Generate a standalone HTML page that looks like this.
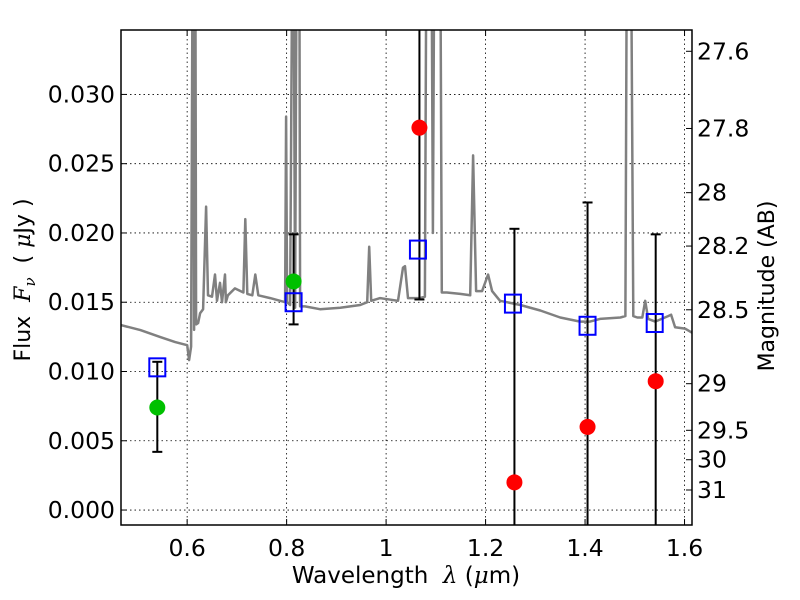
<!DOCTYPE html>
<html><head><meta charset="utf-8"><style>
html,body{margin:0;padding:0;background:#fff;overflow:hidden;width:800px;height:600px;}
svg{display:block;font-family:"DejaVu Sans","Liberation Sans",sans-serif;}
</style></head><body>
<svg id="chart" width="800" height="600" xmlns="http://www.w3.org/2000/svg">
<rect width="800" height="600" fill="#fff"/>
<defs><clipPath id="plotclip"><rect x="121" y="30" width="571" height="495"/></clipPath></defs>
<g id="grid"></g>
<g id="marks" clip-path="url(#plotclip)"></g>
<rect x="121" y="30" width="571" height="495" fill="none" stroke="#000" stroke-width="1.5"/>
<g id="axes"></g>
<text x="406" y="583" font-size="23" text-anchor="middle" xml:space="preserve">Wavelength  <tspan font-family="DejaVu Serif, serif" font-style="italic">λ</tspan> (<tspan font-family="DejaVu Serif, serif" font-style="italic">μ</tspan>m)</text>
<text transform="translate(30,280) rotate(-90)" font-size="22" text-anchor="middle" xml:space="preserve">Flux  <tspan font-family="DejaVu Serif, serif" font-style="italic">F</tspan><tspan font-family="DejaVu Serif, serif" font-style="italic" font-size="15" dy="5">ν</tspan><tspan dy="-5">  ( </tspan><tspan font-family="DejaVu Serif, serif" font-style="italic">μ</tspan>Jy )</text>
<text transform="translate(774,286) rotate(-90)" font-size="22" text-anchor="middle">Magnitude (AB)</text>
</svg>
<script>
const xTicks=[0.6,0.8,1.0,1.2,1.4,1.6];
const xTickLabels=["0.6","0.8","1","1.2","1.4","1.6"];
const yTicks=[0,0.005,0.01,0.015,0.02,0.025,0.03];
const yTickLabels=["0.000","0.005","0.010","0.015","0.020","0.025","0.030"];
const magTicks=[27.6,27.8,28,28.2,28.5,29,29.5,30,31];
const magTickLabels=["27.6","27.8","28","28.2","28.5","29","29.5","30","31"];
const specWave=[0.467,0.506,0.546,0.576,0.600,0.604,0.608,0.612,0.614,0.616,0.618,0.622,0.626,0.632,0.638,0.642,0.650,0.656,0.660,0.666,0.670,0.676,0.678,0.682,0.696,0.713,0.717,0.721,0.731,0.737,0.743,0.767,0.797,0.799,0.801,0.807,0.813,0.817,0.821,0.825,0.827,0.837,0.867,0.908,0.948,0.962,0.966,0.970,0.988,1.024,1.034,1.038,1.044,1.068,1.078,1.082,1.090,1.094,1.098,1.108,1.112,1.122,1.149,1.169,1.175,1.181,1.193,1.205,1.213,1.229,1.270,1.310,1.350,1.390,1.410,1.430,1.471,1.481,1.485,1.491,1.497,1.505,1.515,1.521,1.527,1.541,1.567,1.573,1.581,1.601,1.615];
const specFlux=[0.01335,0.01299,0.01248,0.01212,0.0119,0.01082,0.0118,0.05,0.013,0.05,0.0134,0.01349,0.0142,0.0145,0.0219,0.0155,0.0154,0.0170,0.0151,0.0164,0.0150,0.0170,0.0150,0.0155,0.0160,0.0157,0.0210,0.0156,0.0155,0.0170,0.0155,0.0153,0.0150,0.0284,0.0150,0.0148,0.05,0.0146,0.05,0.05,0.0147,0.0147,0.0145,0.0146,0.0148,0.0150,0.0190,0.0151,0.0153,0.0151,0.0175,0.0176,0.0153,0.0153,0.0154,0.05,0.05,0.0200,0.05,0.05,0.0157,0.0157,0.0156,0.0155,0.0256,0.0158,0.0158,0.0170,0.0158,0.0151,0.0148,0.0144,0.0139,0.0136,0.0136,0.0138,0.0139,0.0140,0.05,0.05,0.0140,0.0139,0.0139,0.0151,0.0138,0.0136,0.0140,0.0141,0.0132,0.0131,0.0128];
const modelWave=[0.54,0.814,1.064,1.255,1.405,1.54];
const modelFlux=[0.0103,0.0150,0.0188,0.0149,0.0133,0.0135];
const obsWave=[0.54,0.814,1.067,1.258,1.405,1.542];
const obsFlux=[0.0074,0.0165,0.0276,0.0020,0.0060,0.0093];
const obsLow=[0.0042,0.0134,0.0152,-0.01,-0.01,-0.01];
const obsHigh=[0.0107,0.0199,0.05,0.0203,0.0222,0.0199];
const obsColor=["#00c000","#00c000","#ff0000","#ff0000","#ff0000","#ff0000"];

const NS="http://www.w3.org/2000/svg";
const X0=121,X1=692,Y0=525,Y1=30;
const xmin=0.467,xmax=1.615,ymin=-0.00108,ymax=0.03465;
function sx(v){return X0+(v-xmin)/(xmax-xmin)*(X1-X0);}
function sy(v){return Y0-(v-ymin)/(ymax-ymin)*(Y0-Y1);}
function magToFlux(m){return Math.pow(10,(23.9-m)/2.5);}
function mk(tag,attrs,parent){const e=document.createElementNS(NS,tag);for(const k in attrs)e.setAttribute(k,attrs[k]);parent.appendChild(e);return e;}
const grid=document.getElementById('grid'),marks=document.getElementById('marks'),axes=document.getElementById('axes');

xTicks.forEach((t,i)=>{
  const x=sx(t);
  const g=mk('line',{x1:x,x2:x,y1:Y1,y2:Y0,stroke:'#000','stroke-width':0.8,'stroke-dasharray':'1.5,3'},grid);
  
  
  mk('line',{x1:x,x2:x,y1:Y0,y2:Y0-6,stroke:'#000'},axes);
  mk('line',{x1:x,x2:x,y1:Y1,y2:Y1+6,stroke:'#000'},axes);
  const tx=mk('text',{x:x,y:Y0+31,'font-size':23.5,'text-anchor':'middle'},axes);
  tx.textContent=xTickLabels[i];
  
  
});
yTicks.forEach((t,i)=>{
  const y=sy(t);
  const g=mk('line',{x1:X0,x2:X1,y1:y,y2:y,stroke:'#000','stroke-width':0.8,'stroke-dasharray':'1.5,3'},grid);
  
  
  mk('line',{x1:X0,x2:X0+6,y1:y,y2:y,stroke:'#000'},axes);
  const tx=mk('text',{x:X0-6,y:y+8,'font-size':23.5,'text-anchor':'end'},axes);
  tx.textContent=yTickLabels[i];
  
  
});
magTicks.forEach((m,i)=>{
  const y=sy(magToFlux(m));
  mk('line',{x1:X1,x2:X1-6,y1:y,y2:y,stroke:'#000'},axes);
  const tx=mk('text',{x:X1+5,y:y+8,'font-size':23.5,'text-anchor':'start'},axes);
  tx.textContent=magTickLabels[i];
  
  
});

let d='';
specWave.forEach((w,i)=>{d+=(i?'L':'M')+sx(w).toFixed(1)+','+sy(specFlux[i]).toFixed(1);});
const sp=mk('path',{d:d,fill:'none',stroke:'#808080','stroke-width':2.5,'stroke-linejoin':'round'},marks);



obsWave.forEach((w,i)=>{
  const x=sx(w);
  const e=mk('line',{x1:x,x2:x,y1:sy(obsLow[i]),y2:sy(obsHigh[i]),stroke:'#000','stroke-width':2},marks);
  
  
  [obsLow[i],obsHigh[i]].forEach(v=>{mk('line',{x1:x-5,x2:x+5,y1:sy(v),y2:sy(v),stroke:'#000','stroke-width':2},marks);});
});
modelWave.forEach((w,i)=>{
  const r=mk('rect',{x:sx(w)-8,y:sy(modelFlux[i])-9,width:16,height:18,fill:'none',stroke:'#0000ff','stroke-width':2},marks);
  
  
});
obsWave.forEach((w,i)=>{
  const c=mk('ellipse',{cx:sx(w),cy:sy(obsFlux[i]),rx:8,ry:8,fill:obsColor[i]},marks);
  
  
});
</script>
</body></html>
